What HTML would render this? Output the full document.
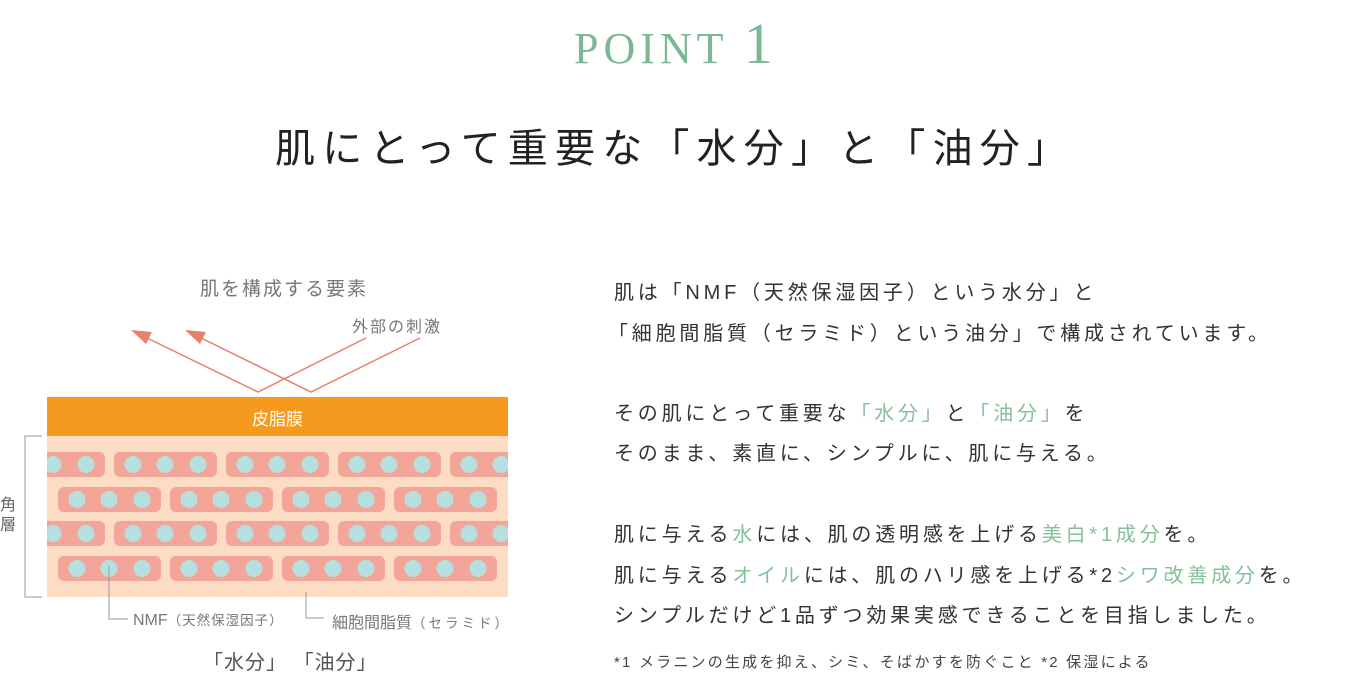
<!DOCTYPE html>
<html><head><meta charset="utf-8"><style>
body{margin:0;width:1359px;height:672px;background:#fff;position:relative;overflow:hidden;font-family:"Liberation Sans","Noto Sans CJK JP",sans-serif;color:#333}
.a{position:absolute;white-space:nowrap}
.g{color:#86c09a}
.r{font-size:20px;letter-spacing:3.8px;color:#333;left:614px}
</style></head><body>
<div class="a" style="left:574px;top:14px;font-family:'Liberation Serif',serif;color:#7db896;font-size:44px;letter-spacing:5px;line-height:60px">POINT <span style="font-size:58px">1</span></div>
<div class="a" style="left:275px;top:123px;font-size:40px;line-height:52px;color:#222;letter-spacing:7.2px">肌にとって重要な「水分」と「油分」</div>

<div class="a" style="left:200px;top:274px;font-size:19px;color:#777;letter-spacing:2px">肌を構成する要素</div>
<div class="a" style="left:352px;top:313px;font-size:16px;color:#777;letter-spacing:2px">外部の刺激</div>
<svg class="a" style="left:0;top:0" width="520" height="672">
<g stroke="#e8806e" stroke-width="1.5" fill="none">
<polyline points="145,337 258,392 366,338"/>
<polyline points="199,337 311,392 420,338"/>
</g>
<polygon points="131,330 152,332 146,344" fill="#e8806e"/>
<polygon points="185,330 206,332 200,344" fill="#e8806e"/>
<rect x="47" y="397" width="461" height="40" fill="#f59a1e"/>
<rect x="47" y="436" width="461" height="161" fill="#fcdcc2"/>
<clipPath id="c"><rect x="47" y="436" width="461" height="161"/></clipPath>
<g clip-path="url(#c)" id="cells"></g>
<polyline points="42,436 25,436 25,597 42,597" stroke="#999" fill="none"/>
<polyline points="109,566 109,619 128,619" stroke="#999" fill="none"/>
<polyline points="306,592 306,618 324,618" stroke="#999" fill="none"/>
</svg>
<div class="a" style="left:47px;width:461px;text-align:center;top:405px;font-size:17px;color:#fff">皮脂膜</div>
<div class="a" style="left:0;top:496px;font-size:16px;color:#666;line-height:20px;width:18px;white-space:normal">角層</div>
<div class="a" style="left:133px;top:609px;font-size:16px;color:#777">NMF<span style="font-size:13.5px;letter-spacing:1px">（天然保湿因子）</span></div>
<div class="a" style="left:332px;top:609px;font-size:16px;color:#777">細胞間脂質<span style="font-size:13.5px;letter-spacing:3px">（セラミド）</span></div>
<div class="a" style="left:203px;top:646px;font-size:20px;color:#555;letter-spacing:1px">「水分」 「油分」</div>

<div class="a r" style="top:276px">肌は「NMF（天然保湿因子）という水分」と</div>
<div class="a r" style="top:317px;left:608px">「細胞間脂質（セラミド）という油分」で構成されています。</div>
<div class="a r" style="top:397px">その肌にとって重要な<span class="g">「水分」</span>と<span class="g">「油分」</span>を</div>
<div class="a r" style="top:437px">そのまま、素直に、シンプルに、肌に与える。</div>
<div class="a r" style="top:518px">肌に与える<span class="g">水</span>には、肌の透明感を上げる<span class="g">美白*1成分</span>を。</div>
<div class="a r" style="top:559px">肌に与える<span class="g">オイル</span>には、肌のハリ感を上げる*2<span class="g">シワ改善成分</span>を。</div>
<div class="a r" style="top:599px">シンプルだけど1品ずつ効果実感できることを目指しました。</div>
<div class="a" style="left:614px;top:651px;font-size:15px;color:#444;letter-spacing:2.2px">*1 メラニンの生成を抑え、シミ、そばかすを防ぐこと *2 保湿による</div>

<script>
var g=document.getElementById('cells'),s='';
var rows=[[452,2,520],[487,58,450],[521,2,520],[556,58,450]];
rows.forEach(function(r){
 for(var x=r[1];x<r[2];x+=112){
  s+='<rect x="'+x+'" y="'+r[0]+'" width="103" height="25" rx="6" fill="#f2a598"/>';
  [19,51,84].forEach(function(o){s+='<circle cx="'+(x+o)+'" cy="'+(r[0]+12.5)+'" r="8.5" fill="#b6e0e0"/>';});
 }
});
g.innerHTML=s;
</script>
</body></html>
